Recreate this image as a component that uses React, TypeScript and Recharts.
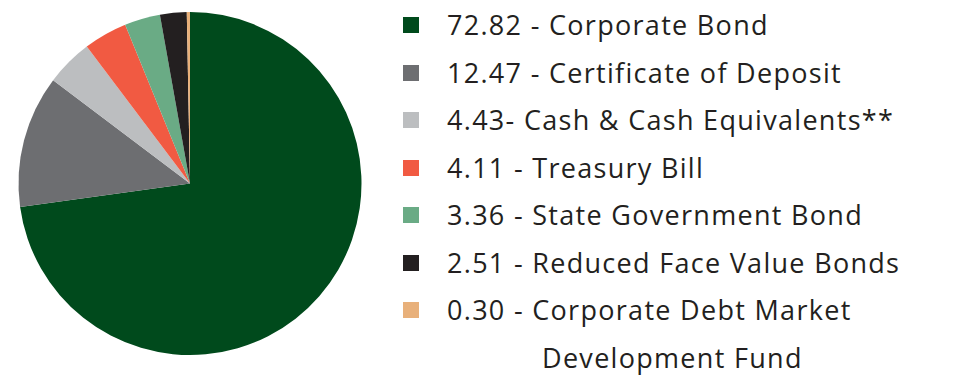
import { PieChart, Pie, Cell } from "recharts";

const names = [
  "Corporate Bond",
  "Certificate of Deposit",
  "Cash & Cash Equivalents**",
  "Treasury Bill",
  "State Government Bond",
  "Reduced Face Value Bonds",
  "Corporate Debt Market Development Fund",
];
const values = [72.82, 12.47, 4.43, 4.11, 3.36, 2.51, 0.3];
const labels = [
  "72.82 - Corporate Bond",
  "12.47 - Certificate of Deposit",
  "4.43- Cash & Cash Equivalents**",
  "4.11 - Treasury Bill",
  "3.36 - State Government Bond",
  "2.51 - Reduced Face Value Bonds",
  "0.30 - Corporate Debt Market\nDevelopment Fund",
];
const colors = ["#004a1c", "#6d6e71", "#bcbec0", "#f15a42", "#6aab85", "#231f20", "#e8b07a"];

const data = names.map((name, i) => ({ name, value: values[i] }));

function LegendList() {
  return (
    <div
      style={{
        position: "absolute",
        left: 403,
        top: 1,
        width: 550,
        fontFamily: "'Open Sans', sans-serif",
        fontSize: 27,
        letterSpacing: 1.3,
        color: "#231f20",
      }}
    >
      {labels.map((label, i) => {
        const [first, second] = label.split("\n");
        return (
          <div key={label} style={{ position: "relative", height: 47.5, lineHeight: "47.5px", paddingLeft: 44 }}>
            <span
              style={{
                position: "absolute",
                left: 0,
                top: 16,
                width: 16,
                height: 16,
                background: colors[i],
              }}
            />
            {first}
            {second && <div style={{ paddingLeft: 95 }}>{second}</div>}
          </div>
        );
      })}
    </div>
  );
}

export default function App() {
  return (
    <div style={{ position: "absolute", left: 0, top: 0, width: 953, height: 385, background: "#fff" }}>
      <PieChart width={953} height={385} margin={{ top: 0, right: 0, bottom: 0, left: 0 }}>
        <Pie
          data={data}
          dataKey="value"
          nameKey="name"
          cx={190}
          cy={183.5}
          outerRadius={171.5}
          startAngle={90}
          endAngle={-270}
          stroke="none"
          isAnimationActive={false}
        >
          {data.map((d, i) => (
            <Cell key={d.name} fill={colors[i]} />
          ))}
        </Pie>
      </PieChart>
      <LegendList />
    </div>
  );
}
